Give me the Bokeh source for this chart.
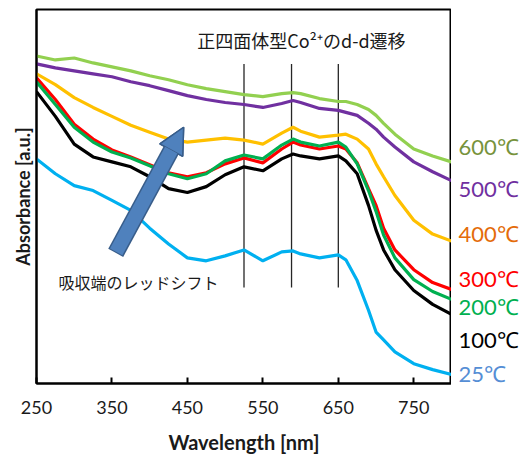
from bokeh.plotting import figure
from bokeh.layouts import row
from bokeh.models import Range1d, FixedTicker, Label, Arrow, NormalHead
from bokeh.embed import file_html
from bokeh.resources import INLINE
from bokeh.core.properties import value

# ---- data ----
wavelength = [250, 275, 300, 325, 350, 375, 400, 425, 450, 475, 500, 525, 550,
              575, 590, 600, 625, 650, 660, 675, 690, 700, 710, 725, 750, 775, 800]

abs_600 = [3.31, 3.27, 3.29, 3.24, 3.20, 3.16, 3.11, 3.07, 3.02, 2.98, 2.95, 2.92, 2.90,
           2.93, 2.94, 2.93, 2.88, 2.85, 2.85, 2.82, 2.77, 2.71, 2.63, 2.52, 2.37, 2.30, 2.24]
abs_500 = [3.23, 3.19, 3.16, 3.13, 3.10, 3.05, 3.01, 2.96, 2.91, 2.87, 2.84, 2.82, 2.79,
           2.83, 2.86, 2.84, 2.78, 2.76, 2.74, 2.71, 2.63, 2.57, 2.49, 2.39, 2.24, 2.14, 2.05]
abs_400 = [3.13, 3.02, 2.89, 2.79, 2.70, 2.61, 2.54, 2.47, 2.44, 2.46, 2.48, 2.46, 2.42,
           2.53, 2.59, 2.55, 2.49, 2.51, 2.52, 2.47, 2.37, 2.22, 2.09, 1.90, 1.65, 1.51, 1.44]
abs_300 = [3.09, 2.87, 2.62, 2.47, 2.36, 2.29, 2.21, 2.13, 2.09, 2.13, 2.22, 2.28, 2.23,
           2.37, 2.44, 2.41, 2.37, 2.40, 2.37, 2.23, 1.97, 1.80, 1.57, 1.35, 1.15, 1.02, 0.95]
abs_200 = [3.05, 2.82, 2.59, 2.44, 2.34, 2.28, 2.20, 2.12, 2.07, 2.12, 2.25, 2.31, 2.27,
           2.41, 2.47, 2.44, 2.40, 2.44, 2.39, 2.22, 1.95, 1.74, 1.50, 1.27, 1.05, 0.93, 0.85]
abs_100 = [2.95, 2.70, 2.42, 2.29, 2.24, 2.19, 2.09, 1.97, 1.93, 1.99, 2.11, 2.19, 2.15,
           2.27, 2.32, 2.30, 2.27, 2.30, 2.25, 2.12, 1.80, 1.55, 1.35, 1.15, 0.94, 0.80, 0.70]
abs_25 = [2.27, 2.12, 2.00, 1.95, 1.85, 1.75, 1.57, 1.41, 1.27, 1.24, 1.29, 1.35, 1.24,
          1.33, 1.34, 1.31, 1.27, 1.30, 1.25, 1.04, 0.74, 0.52, 0.44, 0.32, 0.20, 0.14, 0.09]

temperatures = ["600℃", "500℃", "400℃", "300℃", "200℃", "100℃", "25℃"]
series_values = [abs_600, abs_500, abs_400, abs_300, abs_200, abs_100, abs_25]

dd_bands = [525, 588, 650]          # d-d transition marker wavelengths
x_ticks = [250, 350, 450, 550, 650, 750]
x_min, x_max = 250, 800
y_min, y_max = 0.0, 3.78

# ---- styles ----
line_colors = ["#92D050", "#7030A0", "#FFC000", "#FF0000", "#00B050", "#000000", "#00B0F0"]
label_colors = ["#77933C", "#7030A0", "#E46C0A", "#FF0000", "#00B050", "#000000", "#558ED5"]
label_y = [2.40, 1.97, 1.52, 1.06, 0.78, 0.44, 0.10]

H = 456
top, bottom = 9, 69

p = figure(width=451, height=H, output_backend="svg", toolbar_location=None,
           x_range=Range1d(x_min, x_max), y_range=Range1d(y_min, y_max),
           min_border_left=36, min_border_right=0, min_border_top=top, min_border_bottom=bottom)
p.grid.visible = False
p.outline_line_color = "black"
p.outline_line_width = 2
p.background_fill_color = "white"
p.border_fill_color = "white"

# x axis
p.xaxis.ticker = FixedTicker(ticks=x_ticks)
p.xaxis.major_tick_in = 6
p.xaxis.major_tick_out = 0
p.xaxis.minor_tick_line_color = None
p.xaxis.axis_line_width = 2
p.xaxis.axis_line_color = "black"
p.xaxis.major_tick_line_width = 2
p.xaxis.major_label_text_font = "Lato"
p.xaxis.major_label_text_font_size = "18px"
p.xaxis.major_label_text_color = "#1a1a1a"
p.xaxis.major_label_standoff = 17
p.xaxis.axis_label = "Wavelength [nm]"
p.xaxis.axis_label_text_font = "Lato"
p.xaxis.axis_label_text_font_style = "bold"
p.xaxis.axis_label_text_font_size = "20px"
p.xaxis.axis_label_text_color = "#1a1a1a"
p.xaxis.axis_label_standoff = 13

# y axis
p.yaxis.ticker = FixedTicker(ticks=[])
p.yaxis.major_tick_line_color = None
p.yaxis.minor_tick_line_color = None
p.yaxis.major_label_text_font_size = "0px"
p.yaxis.axis_line_width = 2
p.yaxis.axis_line_color = "black"
p.yaxis.axis_label = "Absorbance [a.u.]"
p.yaxis.axis_label_text_font = "Lato"
p.yaxis.axis_label_text_font_style = "bold"
p.yaxis.axis_label_text_font_size = "18px"
p.yaxis.axis_label_text_color = "#1a1a1a"
p.yaxis.axis_label_standoff = 3

# d-d transition markers
p.segment(x0=dd_bands, y0=[0.97] * len(dd_bands), x1=dd_bands, y1=[3.23] * len(dd_bands),
          line_color="#262626", line_width=1.3)

# spectra
for vals, col in zip(series_values, line_colors):
    p.line(wavelength, vals, line_color=col, line_width=3.2)

# red-shift arrow
p.add_layout(Arrow(x_start=355, y_start=1.32, x_end=445, y_end=2.59,
                   line_width=17, line_color="#385D8A",
                   end=NormalHead(size=26, fill_color="#4F81BD", line_color="#385D8A", line_width=1.5)))
p.add_layout(Arrow(x_start=355.6, y_start=1.33, x_end=445, y_end=2.59,
                   line_width=14, line_color="#4F81BD",
                   end=NormalHead(size=26, fill_color="#4F81BD", line_color="#385D8A", line_width=1.5)))

# annotations
p.add_layout(Label(x=463, y=3.47, text="正四面体型Co²⁺のd-d遷移", text_font="Noto Sans CJK JP",
                   text_font_size="18px", text_baseline="middle", text_align="left",
                   text_color="#1a1a1a"))
p.add_layout(Label(x=279, y=1.03, text="吸収端のレッドシフト", text_font="Noto Sans CJK JP",
                   text_font_size="16px", text_baseline="middle", text_align="left",
                   text_color="#1a1a1a"))

# temperature labels in a narrow panel that shares the y scale
q = figure(width=79, height=H, output_backend="svg", toolbar_location=None,
           x_range=Range1d(0, 79), y_range=p.y_range,
           x_axis_location=None, y_axis_location=None,
           min_border_left=0, min_border_right=0, min_border_top=top, min_border_bottom=bottom)
q.grid.visible = False
q.outline_line_color = None
q.background_fill_color = "white"
q.border_fill_color = "white"
q.text(x=[7] * len(temperatures), y=label_y, text=temperatures, text_color=label_colors,
       text_font=value("Lato"), text_font_size="22px", text_baseline="middle", text_align="left")

layout = row(p, q)
open("out.html", "w").write(file_html(layout, INLINE))
